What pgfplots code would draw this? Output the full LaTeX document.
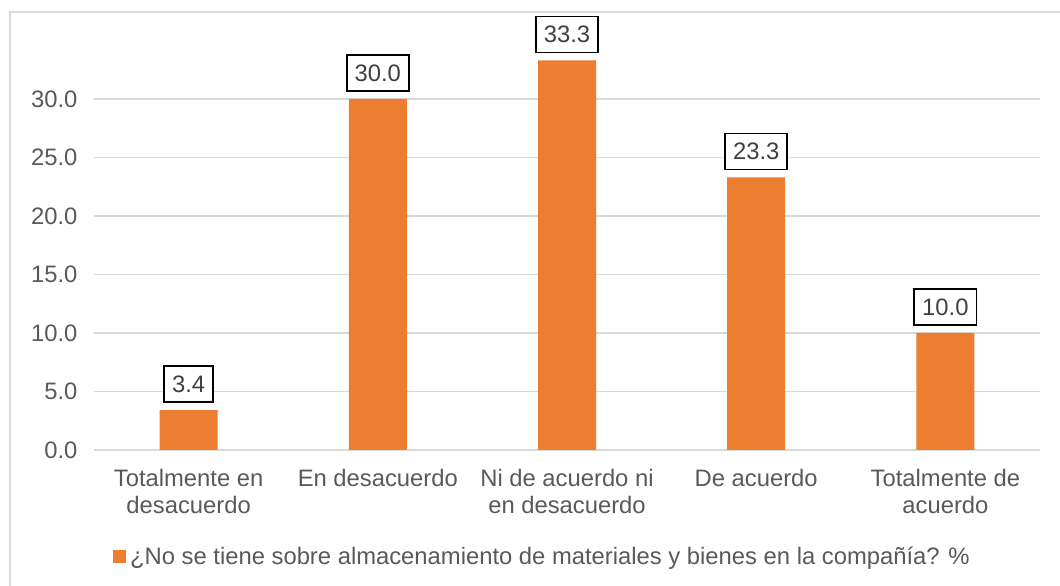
\documentclass[border=0pt]{standalone}
\usepackage{pgfplots}
\pgfplotsset{compat=1.18}
\usepackage{fontspec}
\setmainfont{Liberation Sans}
\definecolor{barorange}{HTML}{ED7D31}
\definecolor{gridgray}{HTML}{D9D9D9}
\definecolor{labelgray}{HTML}{595959}
\definecolor{valuegray}{HTML}{404040}
\newcommand{\chartfont}{\fontsize{23.8}{27}\selectfont}

\begin{document}
\begin{tikzpicture}[x=1pt,y=1pt]
\path[use as bounding box] (0,0) rectangle (1060,586);
% chart area frame (left and top edges)
\draw[gridgray, line width=1.5pt] (9.75,0) -- (9.75,574) -- (1060,574);
\begin{axis}[
  at={(94pt,136pt)}, anchor=south west,
  scale only axis, width=946pt, height=409.5pt,
  xmin=-0.5, xmax=4.5, ymin=0, ymax=35,
  ybar, bar width=58pt,
  axis line style={draw=none},
  tick style={draw=none},
  ymajorgrids, grid style={gridgray, line width=1.5pt},
  ytick={0,5,...,30},
  xtick=data,
  xticklabels={{Totalmente en\\desacuerdo},{En desacuerdo},{Ni de acuerdo ni\\en desacuerdo},{De acuerdo},{Totalmente de\\acuerdo}},
  xticklabel style={align=center, font=\chartfont, text=labelgray, yshift=-11pt},
  yticklabel style={font=\chartfont, text=labelgray, xshift=-13pt},
  /pgf/number format/assume math mode=true,
  yticklabel={\pgfmathprintnumber[fixed, fixed zerofill, precision=1]{\tick}},
  nodes near coords={\pgfmathprintnumber[fixed, fixed zerofill, precision=1]{\pgfplotspointmeta}},
  every node near coord/.append style={font=\chartfont, text=valuegray, draw=black, line width=1.8pt, fill=white, inner xsep=8pt, inner ysep=0pt, minimum height=36pt, anchor=south, yshift=7pt},
  legend style={at={(0.020,-0.261)}, anchor=west, draw=none, fill=none, font=\chartfont, text=labelgray, inner sep=0pt},
  legend image code/.code={\fill[barorange] (0pt,-6.5pt) rectangle (13pt,6.5pt); \path (0pt,0pt) -- (15pt,0pt);},
]
\addplot[fill=barorange, draw=none] coordinates {(0,3.4) (1,30.0) (2,33.3) (3,23.3) (4,10.0)};
\addlegendentry{¿No se tiene sobre almacenamiento de materiales y bienes en la compañía? \%}
\end{axis}
\end{tikzpicture}
\end{document}
